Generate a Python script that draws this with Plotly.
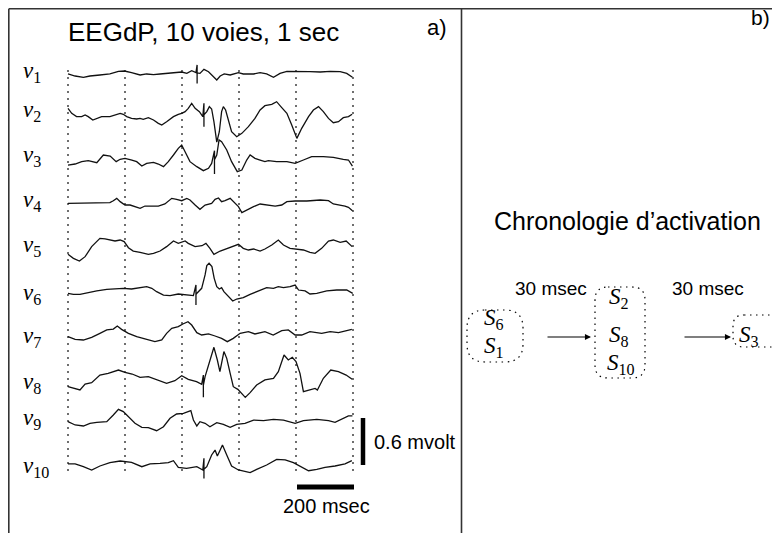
import numpy as np
import plotly.graph_objects as go

# ------------------------------------------------------------------ data
CHANNEL_NAMES = ["1", "2", "3", "4", "5", "6", "7", "8", "9", "10"]

# time (ms) / potential (µV), one pair per channel
T1 = [0,25,54,77,112,147,177,198,223,253,276,300,323,346,370,399,417,434,449,453,453,453,463,477,493,510,522,534,548,569,598,615,651,674,697,721,744,768,797,849,885,920,955,978,998]
V1 = [-38,-64,-81,-64,-51,-38,-4,0,-21,-51,-38,-47,-38,-30,-21,-13,-30,4,-21,77,-158,-25,-30,21,-9,-64,-115,-64,-38,-51,-21,-38,-38,-21,-38,-81,-30,-4,-9,-9,-13,-4,-9,-30,-81]

T2 = [0,13,30,48,60,71,87,101,118,147,165,183,194,206,223,241,253,264,282,300,317,329,346,370,387,399,411,422,434,446,461,473,477,477,477,487,496,504,512,522,531,539,545,553,563,574,592,610,633,656,674,691,715,732,750,768,785,803,820,844,861,879,896,914,931,949,966,984,997]
V2 = [21,-43,-85,-85,-64,-85,-128,-107,-85,-85,-64,-43,-55,-85,-107,-115,-107,-119,-98,-128,-170,-192,-149,-85,-55,-43,-21,21,85,21,-21,-85,85,-213,-60,-21,43,13,-149,-409,-277,-21,43,0,-149,-277,-341,-298,-213,-107,0,55,72,106,30,-43,-192,-362,-234,-85,0,43,-21,-107,-162,-149,-98,-85,-55]

T3 = [0,25,48,71,101,124,148,169,183,200,224,241,259,276,300,317,335,352,370,387,399,411,428,452,475,493,504,514,514,514,522,530,539,557,574,594,610,627,639,656,674,691,703,732,768,797,826,855,896,931,966,984,998]
V3 = [-128,-115,-85,-72,-98,0,-13,-85,-55,-43,-64,-85,-141,-107,-94,-115,-149,-85,0,85,128,43,-85,-149,-200,-170,-107,55,-243,-60,0,192,170,64,-85,-213,-192,-64,0,-43,-64,-85,-72,-85,-85,-107,-64,-21,-21,-30,-55,-64,-141]

T4 = [0,42,77,112,147,159,171,183,200,218,235,253,270,294,317,340,364,381,399,417,428,446,463,481,504,516,528,539,551,569,580,598,610,627,651,674,697,727,750,768,797,838,885,914,931,955,972,984,998]
V4 = [-43,-43,-34,-43,-34,-9,21,-21,-64,-64,-85,-107,-77,-77,-77,-51,21,9,-9,21,0,-64,-119,-64,-43,9,26,-21,-9,21,-21,-85,-162,-128,-85,-51,-64,-77,-64,-21,-13,-13,0,-9,-51,-64,-77,-94,-136]

T5 = [0,19,40,60,83,101,112,130,147,165,183,197,212,229,253,282,300,323,346,370,387,411,422,446,470,484,498,512,534,557,580,598,615,633,651,674,691,715,738,756,779,803,826,849,867,890,914,931,955,976,990,997]
V5 = [-119,-170,-204,-149,-21,51,85,77,64,51,64,43,-34,-77,-94,-119,-107,-77,-21,51,21,51,21,-21,-9,21,-43,-119,-77,-43,-9,9,-43,-64,-51,-77,-51,0,64,0,-43,-51,-64,-94,-107,-43,51,64,34,51,0,-21]

T6 = [0,19,42,66,101,136,165,194,223,247,276,294,311,335,358,387,417,440,449,449,449,454,469,481,487,495,505,513,522,531,539,547,563,578,592,615,639,668,697,721,738,756,779,797,809,832,849,873,908,943,978,999]
V6 = [-4,-17,-17,4,26,47,51,60,51,68,81,60,17,-26,-34,-13,-26,-34,102,-153,-20,4,60,230,349,379,337,187,81,51,68,17,-47,-102,-77,-60,-17,26,68,60,81,68,81,102,38,26,-13,-4,26,38,38,-4]

T7 = [0,25,54,83,112,136,159,173,188,212,241,276,305,329,346,364,387,403,421,434,452,469,493,516,539,559,580,604,633,656,691,720,750,773,797,820,849,890,920,949,978,996]
V7 = [-9,-43,-51,-17,34,77,89,128,85,34,-9,-43,-72,-51,34,98,119,153,183,140,43,13,26,0,-30,-72,-30,34,55,26,55,13,68,77,13,13,55,34,55,43,68,85]

T8 = [0,19,42,60,83,112,141,177,200,225,253,282,311,346,375,399,422,451,469,475,475,475,481,495,512,524,533,547,557,569,580,596,610,622,639,662,691,721,738,758,773,787,800,814,826,844,867,875,896,922,949,976,997]
V8 = [-60,-81,-102,-26,-9,89,111,153,123,102,60,68,34,-17,17,81,34,4,-30,89,-196,-40,68,238,443,281,132,388,302,111,-60,-94,-145,-196,-136,-38,26,47,132,345,281,315,260,111,-124,-102,-81,-102,47,153,132,89,34]

T9 = [0,25,54,77,101,136,159,177,194,212,235,259,282,311,335,358,381,405,431,440,452,463,481,498,522,545,569,592,621,651,686,721,756,797,826,873,914,937,961,984,998]
V9 = [-47,-89,-102,-68,-55,-47,38,111,81,17,-68,-119,-123,-162,-111,-4,51,60,94,-26,-102,-47,-68,-111,-60,-81,-119,-81,-68,-26,-34,-17,-26,-68,-34,-17,-34,-55,-17,26,26]

T10 = [0,25,54,83,112,147,183,223,259,288,323,352,370,387,416,452,473,477,477,477,487,504,516,524,534,542,557,574,598,621,639,662,697,732,762,791,820,844,873,902,937,972,996]
V10 = [26,26,-9,-51,0,43,64,47,-9,26,34,43,68,-17,-30,-9,-51,98,-158,-40,-9,141,204,128,204,268,141,0,-51,-72,-85,-43,13,85,77,43,-9,-60,-43,-17,0,26,68]

GRID_MS = [0, 200, 400, 600, 800, 1000]
SCALE_MS = 200
SCALE_MV = 0.6
TITLE_A = "EEGdP, 10 voies, 1 sec"
TITLE_B = "Chronologie d\u2019activation"
DELAYS_MS = [30, 30]
GROUPS = [["6", "1"], ["2", "8", "10"], ["3"]]

# ------------------------------------------------------------------ layout constants (pixels)
W, H = 780, 533
PAGE_OFF = 8            # default body margin of the html page
X0_PX, PX_PER_MS = 68, 0.285
MV_PER_PX = 0.6 / 47
BASE_PX = [71, 110, 155, 200, 245, 293, 336, 382, 418, 466]
LINE_COL = "#111111"
SANS = "Liberation Sans, Arial, sans-serif"
SERIF = "Liberation Serif, Times New Roman, serif"


def mv_at(y):
    return -y * MV_PER_PX


def ms_at(x):
    return (x - X0_PX) / PX_PER_MS


def px(x):
    return (x - PAGE_OFF) / W


def py(y):
    return 1 - (y - PAGE_OFF) / H


fig = go.Figure()

# dotted time grid
for g in GRID_MS:
    fig.add_trace(go.Scatter(x=[g, g], y=[mv_at(70), mv_at(474)], mode="lines",
                             line=dict(color="#222", width=1.3, dash="2px,5px"),
                             hoverinfo="skip", showlegend=False))

# EEG channels
T_ALL = [T1, T2, T3, T4, T5, T6, T7, T8, T9, T10]
V_ALL = [V1, V2, V3, V4, V5, V6, V7, V8, V9, V10]
for name, t, v, b in zip(CHANNEL_NAMES, T_ALL, V_ALL, BASE_PX):
    fig.add_trace(go.Scatter(x=t, y=mv_at(b) + np.array(v) / 1000.0, mode="lines",
                             line=dict(color=LINE_COL, width=1.3),
                             name="v" + name, showlegend=False))

# scale bars
fig.add_trace(go.Scatter(x=[ms_at(363), ms_at(363)], y=[mv_at(465), mv_at(465) + SCALE_MV], mode="lines",
                         line=dict(color="black", width=4.5), showlegend=False, hoverinfo="skip"))
fig.add_trace(go.Scatter(x=[ms_at(297), ms_at(297) + SCALE_MS], y=[mv_at(487), mv_at(487)], mode="lines",
                         line=dict(color="black", width=5), showlegend=False, hoverinfo="skip"))

ann = []


def text(x, y, s, size, font=SANS, anchor="center"):
    ann.append(dict(x=px(x), y=py(y), xref="paper", yref="paper", text=s, showarrow=False,
                    xanchor=anchor, yanchor="middle",
                    font=dict(family=font, size=size, color="black")))


text(203, 32, TITLE_A, 26)
text(437, 28, "a)", 22)
text(760, 17, "b)", 21)
for name, b in zip(CHANNEL_NAMES, BASE_PX):
    text(21, b + 1, "<i>v</i><sub>%s</sub>" % name, 23, SERIF, "left")
text(372, 442, "%g mvolt" % SCALE_MV, 20, anchor="left")
text(326, 506, "%d msec" % SCALE_MS, 20)

# panel b
text(627, 221, TITLE_B, 25)
text(551, 288, "%d msec" % DELAYS_MS[0], 19)
text(708, 288, "%d msec" % DELAYS_MS[1], 19)
group_pos = [[(494, 319), (494, 347)], [(619, 298), (619, 336), (621, 364)], [(749, 336)]]
for grp, pos in zip(GROUPS, group_pos):
    for s, (x, y) in zip(grp, pos):
        text(x, y, "<i>S</i><sub>%s</sub>" % s, 23, SERIF)

for (x_end, length) in [(591, 45), (731, 48)]:
    ann.append(dict(x=px(x_end), y=py(337), xref="paper", yref="paper",
                    ax=-length, ay=0, axref="pixel", ayref="pixel", text="",
                    showarrow=True, arrowhead=2, arrowsize=1.1, arrowwidth=1.1,
                    arrowcolor="black"))

shapes = []
# frame
for (x0, y0, x1, y1) in [(8.8, 8.8, 790, 8.8), (8.8, 8.8, 8.8, 545), (461.5, 8.8, 461.5, 545)]:
    shapes.append(dict(type="line", xref="paper", yref="paper",
                       x0=px(x0), y0=py(y0), x1=px(x1), y1=py(y1),
                       line=dict(color="#333", width=1.6)))


def rounded(x0, y0, x1, y1, r):
    pts = [
        ("M", [(x0 + r, y0)]), ("L", [(x1 - r, y0)]), ("Q", [(x1, y0), (x1, y0 + r)]),
        ("L", [(x1, y1 - r)]), ("Q", [(x1, y1), (x1 - r, y1)]), ("L", [(x0 + r, y1)]),
        ("Q", [(x0, y1), (x0, y1 - r)]), ("L", [(x0, y0 + r)]), ("Q", [(x0, y0), (x0 + r, y0)]),
    ]
    out = []
    for cmd, cs in pts:
        out.append(cmd + " ".join("%.5f,%.5f" % (px(a), py(b)) for a, b in cs))
    return " ".join(out) + " Z"


for (x0, y0, x1, y1, r) in [(467, 310, 523, 362, 18), (595, 287, 645, 378, 13), (733, 315, 800, 347, 11)]:
    shapes.append(dict(type="path", xref="paper", yref="paper", path=rounded(x0, y0, x1, y1, r),
                       line=dict(color="black", width=1.2, dash="1.5px,4.5px")))

fig.update_layout(
    width=W, height=H, autosize=False,
    margin=dict(l=0, r=0, t=0, b=0),
    paper_bgcolor="white", plot_bgcolor="white",
    xaxis=dict(range=[ms_at(PAGE_OFF), ms_at(PAGE_OFF + W)], domain=[0, 1],
               visible=False, showgrid=False, zeroline=False, fixedrange=True),
    yaxis=dict(range=[mv_at(PAGE_OFF + H), mv_at(PAGE_OFF)], domain=[0, 1], visible=False,
               showgrid=False, zeroline=False, fixedrange=True),
    annotations=ann, shapes=shapes, showlegend=False,
)

fig.write_html("out.html")
